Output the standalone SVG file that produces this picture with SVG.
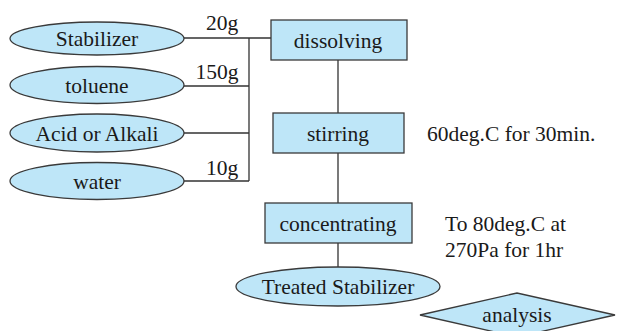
<svg xmlns="http://www.w3.org/2000/svg" width="617" height="331" viewBox="0 0 617 331">
<style>
.n{fill:#bee6f8;stroke:#3a3a3a;stroke-width:1.3}
.t{font-family:"Liberation Serif",serif;font-size:21.5px;fill:#1a1a1a;text-anchor:middle}
.l{font-family:"Liberation Serif",serif;font-size:21.5px;fill:#1a1a1a}
.c{fill:none;stroke:#333;stroke-width:1.3}
</style>
<rect width="617" height="331" fill="#fff"/>
<g id="connectors">
<path class="c" d="M184,38H271M249,38V181M184,86H249M184,133H249M184,181H249M338,60V113M338,153V203M338,243V267"/>
<text class="t" x="222" y="30">20g</text>
<text class="t" x="217" y="79">150g</text>
<text class="t" x="222" y="175">10g</text>
</g>
<g id="stabilizer"><ellipse class="n" cx="97" cy="38.5" rx="87" ry="16.5"/><text class="t" x="97" y="45.5">Stabilizer</text></g>
<g id="toluene"><ellipse class="n" cx="97" cy="85" rx="87" ry="18.5"/><text class="t" x="97" y="92.5">toluene</text></g>
<g id="acid"><ellipse class="n" cx="97" cy="133" rx="87" ry="19"/><text class="t" x="97" y="140.5">Acid or Alkali</text></g>
<g id="water"><ellipse class="n" cx="97" cy="181" rx="87" ry="18.5"/><text class="t" x="97" y="188.5">water</text></g>
<g id="dissolving"><rect class="n" x="271" y="20" width="136" height="40"/><text class="t" x="338" y="47.5">dissolving</text></g>
<g id="stirring"><rect class="n" x="273" y="113" width="131" height="40"/><text class="t" x="338" y="140.5">stirring</text><text class="l" x="427" y="140.5">60deg.C for 30min.</text></g>
<g id="concentrating"><rect class="n" x="265" y="203" width="147" height="40"/><text class="t" x="338" y="230.5">concentrating</text><text class="l" x="445" y="231">To 80deg.C at</text><text class="l" x="445" y="257">270Pa for 1hr</text></g>
<g id="treated"><ellipse class="n" cx="338" cy="286.5" rx="102" ry="19.5"/><text class="t" x="338" y="293.5">Treated Stabilizer</text></g>
<g id="analysis"><polygon class="n" points="420,315 517,293 615,315 517,337"/><text class="t" x="517" y="321.5">analysis</text></g>
</svg>
